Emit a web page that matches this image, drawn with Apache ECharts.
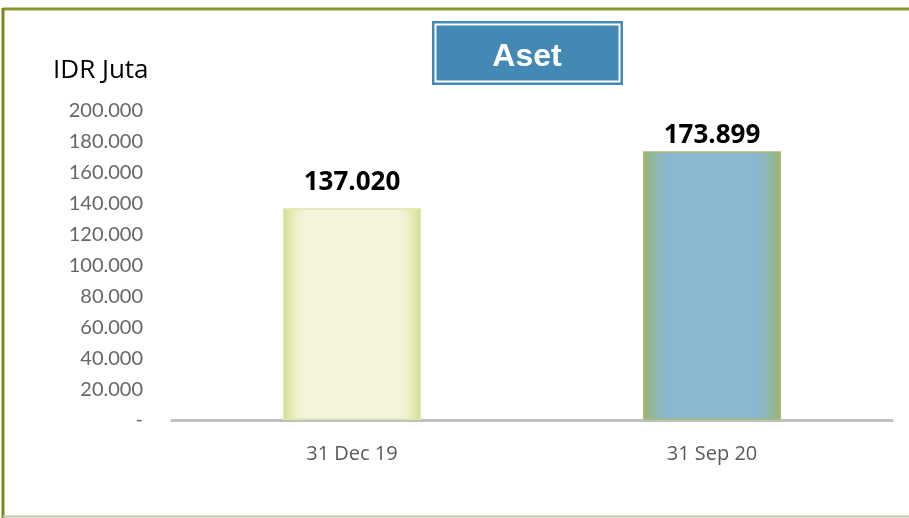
<!DOCTYPE html>
<html>
<head>
<meta charset="utf-8">
<script src="https://cdn.jsdelivr.net/npm/echarts@6/dist/echarts.min.js"></script>
<style>html,body{margin:0;padding:0;background:#fff;}#c{width:909px;height:518px;}</style>
</head>
<body>
<div id="c"></div>
<script>
var categories = ['31 Dec 19', '31 Sep 20'];
var values = [137020, 173899];
var yTicks = { min: 0, max: 200000, interval: 20000 };
var titleText = 'Aset';
var unitText = 'IDR Juta';

function fmt(v) {
  if (v === 0) return '-';
  return String(v).replace(/\B(?=(\d{3})+(?!\d))/g, '.');
}

var barStyles = [
  { color: { type: 'linear', x: 0, y: 0, x2: 1, y2: 0, colorStops: [
      { offset: 0, color: '#d3dd8c' }, { offset: 0.05, color: '#e3e8b0' }, { offset: 0.11, color: '#eff1cf' }, { offset: 0.18, color: '#f5f5dc' },
      { offset: 0.82, color: '#f5f5dc' }, { offset: 0.89, color: '#eff1cf' }, { offset: 0.95, color: '#e3e8b0' }, { offset: 1, color: '#d3dd8c' }] },
    borderColor: '#dfe5a8', borderWidth: 1.5 },
  { color: { type: 'linear', x: 0, y: 0, x2: 1, y2: 0, colorStops: [
      { offset: 0, color: '#9db56a' }, { offset: 0.05, color: '#93b68f' }, { offset: 0.11, color: '#8cb8b8' }, { offset: 0.18, color: '#89b8d1' },
      { offset: 0.82, color: '#89b8d1' }, { offset: 0.89, color: '#8cb8b8' }, { offset: 0.95, color: '#93b68f' }, { offset: 1, color: '#9db56a' }] },
    borderColor: '#a6bb7c', borderWidth: 1.5 }
];
var labelGaps = [13, 3];

var chart = echarts.init(document.getElementById('c'));
chart.setOption({
  animation: false,
  title: [
    { text: titleText, left: 527, top: 41, textAlign: 'center', padding: 0,
      textStyle: { color: '#ffffff', fontFamily: 'Liberation Sans, Arial', fontWeight: 'bold', fontSize: 32 } },
    { text: unitText, left: 53, top: 58, padding: 0,
      textStyle: { color: '#000000', fontFamily: 'Open Sans, Lato', fontWeight: 'normal', fontSize: 26 } }
  ],
  graphic: [
    { type: 'rect', z: -1, shape: { x: 432, y: 21, width: 191, height: 64 }, style: { fill: '#4389b4' } },
    { type: 'rect', z: -1, shape: { x: 435.5, y: 24.5, width: 184, height: 57 }, style: { fill: 'none', stroke: '#ffffff', lineWidth: 2 } },
    { type: 'line', shape: { x1: 3, y1: 9, x2: 909, y2: 9 }, style: { stroke: '#8a962c', lineWidth: 3 } },
    { type: 'line', shape: { x1: 3, y1: 8, x2: 3, y2: 518 }, style: { stroke: '#7c861e', lineWidth: 3 } },
    { type: 'line', shape: { x1: 3, y1: 516.5, x2: 909, y2: 516.5 }, style: { stroke: '#c4c6a8', lineWidth: 2 } }
  ],
  grid: { left: 172, right: 17, top: 111, bottom: 98 },
  xAxis: {
    type: 'category', data: categories,
    axisLine: { lineStyle: { color: '#c0c0c0', width: 3 } },
    axisTick: { show: false },
    axisLabel: { color: '#595959', fontSize: 20, fontFamily: 'Open Sans, Lato', margin: 24 }
  },
  yAxis: {
    type: 'value', min: yTicks.min, max: yTicks.max, interval: yTicks.interval,
    axisLine: { show: false }, axisTick: { show: false }, splitLine: { show: false },
    axisLabel: { color: '#666666', fontSize: 20, fontFamily: 'Lato, Open Sans', margin: 29, formatter: fmt }
  },
  series: [{
    type: 'bar', barWidth: 138,
    data: values.map(function (v, i) { return { value: v, itemStyle: barStyles[i], label: { distance: labelGaps[i] } }; }),
    label: { show: true, position: 'top', color: '#000000', fontSize: 26,
      fontWeight: 'bold', fontFamily: 'Open Sans, Lato', formatter: function (p) { return fmt(p.value); } }
  }]
});
</script>
</body>
</html>
